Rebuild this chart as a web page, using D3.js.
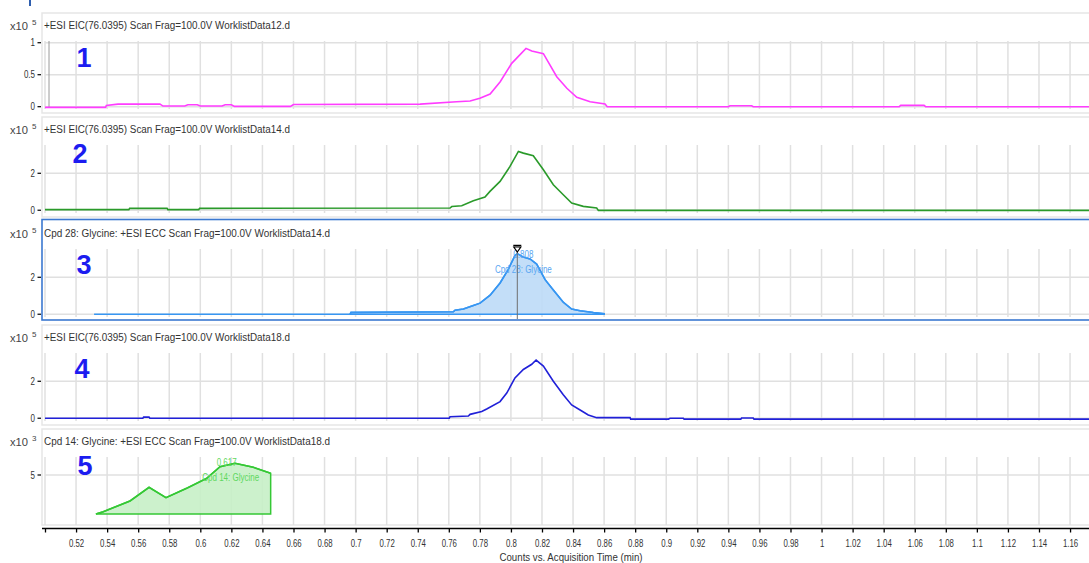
<!DOCTYPE html>
<html>
<head>
<meta charset="utf-8">
<script src="https://cdn.jsdelivr.net/npm/d3@7"></script>
<style>
  body { margin: 0; background: #fff; }
  text { font-family: "Liberation Sans", Arial, sans-serif; }
</style>
</head>
<body>
<script>
// ---- data ----
const titles = [
  "+ESI EIC(76.0395) Scan Frag=100.0V WorklistData12.d",
  "+ESI EIC(76.0395) Scan Frag=100.0V WorklistData14.d",
  "Cpd 28: Glycine: +ESI ECC Scan Frag=100.0V WorklistData14.d",
  "+ESI EIC(76.0395) Scan Frag=100.0V WorklistData18.d",
  "Cpd 14: Glycine: +ESI ECC Scan Frag=100.0V WorklistData18.d"
];
const panelNumbers = ["1", "2", "3", "4", "5"];
const exponents = ["5", "5", "5", "5", "3"];
const yTicks = [[0, 0.5, 1], [0, 2], [0, 2], [0, 2], [5]];
const yTickLabels = [["0", "0.5", "1"], ["0", "2"], ["0", "2"], ["0", "2"], ["5"]];
const yDomains = [[-0.036, 1.027], [-0.15, 3.53], [-0.15, 3.53], [-0.15, 3.53], [0, 6.8]];

const xTicks = [0.5, 0.52, 0.54, 0.56, 0.58, 0.6, 0.62, 0.64, 0.66, 0.68, 0.7, 0.72, 0.74, 0.76, 0.78,
  0.8, 0.82, 0.84, 0.86, 0.88, 0.9, 0.92, 0.94, 0.96, 0.98, 1, 1.02, 1.04, 1.06, 1.08, 1.1, 1.12, 1.14, 1.16];
const xTickLabels = ["", "0.52", "0.54", "0.56", "0.58", "0.6", "0.62", "0.64", "0.66", "0.68", "0.7", "0.72",
  "0.74", "0.76", "0.78", "0.8", "0.82", "0.84", "0.86", "0.88", "0.9", "0.92", "0.94", "0.96", "0.98", "1",
  "1.02", "1.04", "1.06", "1.08", "1.1", "1.12", "1.14", "1.16"];

// trace 1 (magenta), x10^5
const time1 = [0.5, 0.539, 0.5395, 0.547, 0.574, 0.576, 0.59, 0.592, 0.598, 0.6, 0.614, 0.616, 0.62, 0.622,
  0.658, 0.66, 0.7415, 0.765, 0.7737, 0.78, 0.7866, 0.7931, 0.8005, 0.8097, 0.8134, 0.8209, 0.8295, 0.836,
  0.8424, 0.851, 0.8606, 0.862, 0.94, 0.941, 0.955, 0.956, 1.05, 1.051, 1.066, 1.067, 1.18];
const counts1 = [-0.01, -0.01, 0.02, 0.04, 0.04, 0.01, 0.01, 0.03, 0.03, 0.01, 0.01, 0.03, 0.03, 0.005,
  0.005, 0.035, 0.04, 0.078, 0.089, 0.131, 0.198, 0.39, 0.678, 0.912, 0.87, 0.83, 0.469, 0.288,
  0.147, 0.078, 0.042, 0, 0, 0.015, 0.015, 0, 0, 0.02, 0.02, 0, 0];

// trace 2 (dark green), x10^5
const time2 = [0.5, 0.554, 0.5545, 0.5786, 0.5791, 0.599, 0.5995, 0.7608, 0.7619, 0.7683, 0.7758, 0.7833,
  0.7865, 0.793, 0.7994, 0.8048, 0.808, 0.8144, 0.8209, 0.8273, 0.8337, 0.8391, 0.8466, 0.8552, 0.8563, 1.18];
const counts2 = [0.03, 0.03, 0.1, 0.1, 0.03, 0.03, 0.1, 0.12, 0.2, 0.24, 0.51, 0.71, 1.02, 1.56, 2.37, 3.18,
  3.09, 2.95, 2.19, 1.38, 0.84, 0.39, 0.21, 0.12, -0.01, -0.01];

// trace 3 (light blue, compound Cpd 28), x10^5
const time3 = [0.5316, 0.6964, 0.697, 0.7629, 0.764, 0.7694, 0.7758, 0.7801, 0.7866, 0.793, 0.7983, 0.8026,
  0.8041, 0.808, 0.8123, 0.8166, 0.822, 0.8273, 0.8337, 0.8391, 0.8445, 0.8531, 0.8601];
const counts3 = [0, 0, 0.1, 0.13, 0.22, 0.28, 0.47, 0.6, 1.03, 1.69, 2.43, 3.18, 3.28, 3.09, 2.99, 2.71,
  1.87, 1.31, 0.65, 0.28, 0.19, 0.09, 0.03];

// trace 4 (blue), x10^5
const time4 = [0.5, 0.563, 0.5635, 0.567, 0.5675, 0.7603, 0.7608, 0.7726, 0.7737, 0.7812, 0.7844, 0.793,
  0.7973, 0.8026, 0.808, 0.8134, 0.8162, 0.8209, 0.8273, 0.8337, 0.8391, 0.8456, 0.8498, 0.8552, 0.8767,
  0.8771, 0.9014, 0.9024, 0.911, 0.9115, 0.948, 0.9485, 0.956, 0.9565, 1.18];
const counts4 = [0, 0, 0.06, 0.06, 0, 0, 0.08, 0.12, 0.21, 0.36, 0.5, 0.9, 1.36, 2.18, 2.64, 2.92, 3.15,
  2.82, 2.0, 1.27, 0.72, 0.39, 0.18, 0.03, 0.03, -0.05, -0.05, 0, 0, -0.05, -0.05, 0.01, 0.01, -0.05, -0.05];

// trace 5 (green, compound Cpd 14), x10^3
const time5 = [0.5328, 0.5375, 0.5547, 0.567, 0.5779, 0.5912, 0.6041, 0.6127, 0.6223, 0.6341, 0.6453];
const counts5 = [1.1, 1.33, 2.4, 3.77, 2.73, 3.67, 4.67, 5.83, 6.17, 5.77, 5.17];

// integrated peaks: panel, start time, baseline, RT label, name label
const peakPanels = [2, 4];
const peakStarts = [0.6964, 0.5328];
const peakBaselines = [0, 1.1];
const peakRT = ["0.808", "0.617"];
const peakNames = ["Cpd 28: Glycine", "Cpd 14: Glycine"];
const peakMarkerTime = 0.8041;

// ---- styles / layout ----
const W = 1089, H = 563;
const colors = ["#ff3cff", "#2a9a2a", "#3796f2", "#2020d8", "#35c835"];
const fills = [null, null, "#bcdaf7", null, "#c6efc6"];
const labelColors = [null, null, "#5aa6f2", null, "#5fd85f"];
const titleWidths = [246, 246, 286, 246, 286];
const numberY = [54, 46, 53, 53, 46];
const numberX = [84, 80, 84, 82, 85];

const traces = [
  time1.map((t, k) => [t, counts1[k]]),
  time2.map((t, k) => [t, counts2[k]]),
  time3.map((t, k) => [t, counts3[k]]),
  time4.map((t, k) => [t, counts4[k]]),
  time5.map((t, k) => [t, counts5[k]])
];

const svg = d3.select("body").append("svg")
  .attr("width", W)
  .attr("height", H);

const x = d3.scaleLinear().domain([0.5, 1.1722]).range([45, 1089]);

// little blue mark at the top
svg.append("line")
  .attr("x1", 30).attr("x2", 30).attr("y1", 0).attr("y2", 6)
  .attr("stroke", "#2f5fae").attr("stroke-width", 2);

// squeeze text horizontally, the original font is condensed
function condense(sel, f) {
  sel.each(function () {
    const L = this.getComputedTextLength();
    if (L > 0) d3.select(this).attr("textLength", L * f).attr("lengthAdjust", "spacingAndGlyphs");
  });
}

traces.forEach((pts, i) => {
  const top = 13 + 104 * i;
  const pTop = top + 28, pBot = top + 96;
  const y = d3.scaleLinear().domain(yDomains[i]).range([pBot, pTop]);
  const g = svg.append("g");

  // panel frame
  const boxH = i === 4 ? 96 : 100;
  g.append("rect")
    .attr("x", 42).attr("y", i === 2 ? top - 1.5 : top)
    .attr("width", 1060).attr("height", i === 2 ? boxH + 0.5 : boxH)
    .attr("fill", "none")
    .attr("stroke", i === 2 ? "#3b78d0" : "#e6e6e6")
    .attr("stroke-width", i === 2 ? 1.6 : 1.5);

  // grid
  g.selectAll(".vg").data(xTicks).enter().append("line")
    .attr("x1", d => x(d)).attr("x2", d => x(d))
    .attr("y1", pTop).attr("y2", pBot)
    .attr("stroke", "#e0e0e0").attr("stroke-width", 1.5);
  g.selectAll(".hg").data(yTicks[i]).enter().append("line")
    .attr("x1", 45).attr("x2", W)
    .attr("y1", d => y(d)).attr("y2", d => y(d))
    .attr("stroke", "#e0e0e0").attr("stroke-width", 1.5);
  if (i === 0) {
    g.append("line").attr("x1", 49).attr("x2", 49).attr("y1", pTop).attr("y2", pBot - 1)
      .attr("stroke", "#9a9a9a").attr("stroke-width", 1);
  }

  // y ticks
  g.selectAll(".yt").data(yTicks[i]).enter().append("line")
    .attr("x1", 37.5).attr("x2", 41)
    .attr("y1", d => y(d)).attr("y2", d => y(d))
    .attr("stroke", "#000").attr("stroke-width", 1.2);
  const yl = g.selectAll(".yl").data(yTicks[i]).enter().append("text")
    .attr("x", 35).attr("y", d => y(d)).attr("dy", "0.35em")
    .attr("text-anchor", "end").attr("font-size", 10).attr("fill", "#333")
    .text((d, k) => yTickLabels[i][k]);
  condense(yl, 0.8);

  // exponent label
  g.append("text").attr("x", 10).attr("y", top + 17).attr("font-size", 10).attr("fill", "#444")
    .attr("textLength", 18).attr("lengthAdjust", "spacingAndGlyphs").text("x10");
  g.append("text").attr("x", 32).attr("y", top + 12).attr("font-size", 8).attr("fill", "#444").text(exponents[i]);

  // title
  g.append("text").attr("x", 44).attr("y", top + 16)
    .attr("font-size", 10).attr("fill", "#333")
    .attr("textLength", titleWidths[i]).attr("lengthAdjust", "spacingAndGlyphs")
    .text(titles[i]);

  // panel number
  g.append("text").attr("x", numberX[i]).attr("y", top + numberY[i])
    .attr("text-anchor", "middle").attr("font-size", 27).attr("font-weight", "bold")
    .attr("fill", "#1c1cf0").text(panelNumbers[i]);

  // clip
  g.append("clipPath").attr("id", "clip" + i).append("rect")
    .attr("x", 43).attr("y", pTop - 2).attr("width", W - 43).attr("height", pBot - pTop + 3);
  const plot = g.append("g").attr("clip-path", "url(#clip" + i + ")");

  const pk = peakPanels.indexOf(i);
  if (pk >= 0) {
    // peak labels (behind the fill)
    const xr = x(+peakRT[pk]);
    const t1 = g.append("text").attr("x", xr).attr("y", top + 37).attr("text-anchor", "middle")
      .attr("font-size", 10).attr("fill", labelColors[i]).text(peakRT[pk]);
    const t2 = g.append("text").attr("x", xr + (i === 4 ? 4 : 0)).attr("y", top + 52).attr("text-anchor", "middle")
      .attr("font-size", 10).attr("fill", labelColors[i]).text(peakNames[pk]);
    condense(t1, 0.8); condense(t2, 0.8);

    const sub = pts.filter(p => p[0] >= peakStarts[pk]);
    const base = peakBaselines[pk];
    const poly = [[sub[0][0], base]].concat(sub, [[sub[sub.length - 1][0], base]]);
    plot.append("path")
      .attr("d", d3.line().x(d => x(d[0])).y(d => y(d[1]))(poly) + "Z")
      .attr("fill", fills[i]).attr("fill-opacity", 0.9)
      .attr("stroke", colors[i]).attr("stroke-width", 1.5);
  }

  plot.append("path")
    .attr("d", d3.line().x(d => x(d[0])).y(d => y(d[1]))(pts))
    .attr("fill", "none").attr("stroke", colors[i]).attr("stroke-width", 1.6);

  if (i === 2) {
    // peak apex marker
    const xm = x(peakMarkerTime);
    g.append("line").attr("x1", xm).attr("x2", xm).attr("y1", top + 26).attr("y2", top + 98)
      .attr("stroke", "#6e6e6e").attr("stroke-width", 1);
    g.append("line").attr("x1", xm - 4).attr("x2", xm + 4).attr("y1", top + 24.5).attr("y2", top + 24.5)
      .attr("stroke", "#000").attr("stroke-width", 1.5);
    g.append("path")
      .attr("d", `M${xm - 3.5},${top + 26}L${xm + 3.5},${top + 26}L${xm},${top + 31}Z`)
      .attr("fill", "#fff").attr("stroke", "#000").attr("stroke-width", 1.2);
  }
});

// x axis
const axis = d3.axisBottom(x)
  .tickValues(xTicks)
  .tickFormat((d, k) => xTickLabels[k])
  .tickSize(4).tickPadding(7).tickSizeOuter(0);
const ax = svg.append("g").attr("transform", "translate(0,528.5)").call(axis);
ax.select(".domain").remove();
ax.append("line").attr("x1", 42).attr("x2", W).attr("stroke", "#000").attr("stroke-width", 1.5);
ax.selectAll(".tick line").attr("stroke", "#000").attr("stroke-width", 1.3);
ax.selectAll(".tick text").attr("font-size", 10).attr("fill", "#333")
  .attr("font-family", "'Liberation Sans', Arial, sans-serif");
condense(ax.selectAll(".tick text"), 0.78);

svg.append("text").attr("x", 571).attr("y", 561).attr("text-anchor", "middle")
  .attr("font-size", 10).attr("fill", "#333")
  .attr("textLength", 143).attr("lengthAdjust", "spacingAndGlyphs")
  .text("Counts vs. Acquisition Time (min)");
</script>
</body>
</html>
